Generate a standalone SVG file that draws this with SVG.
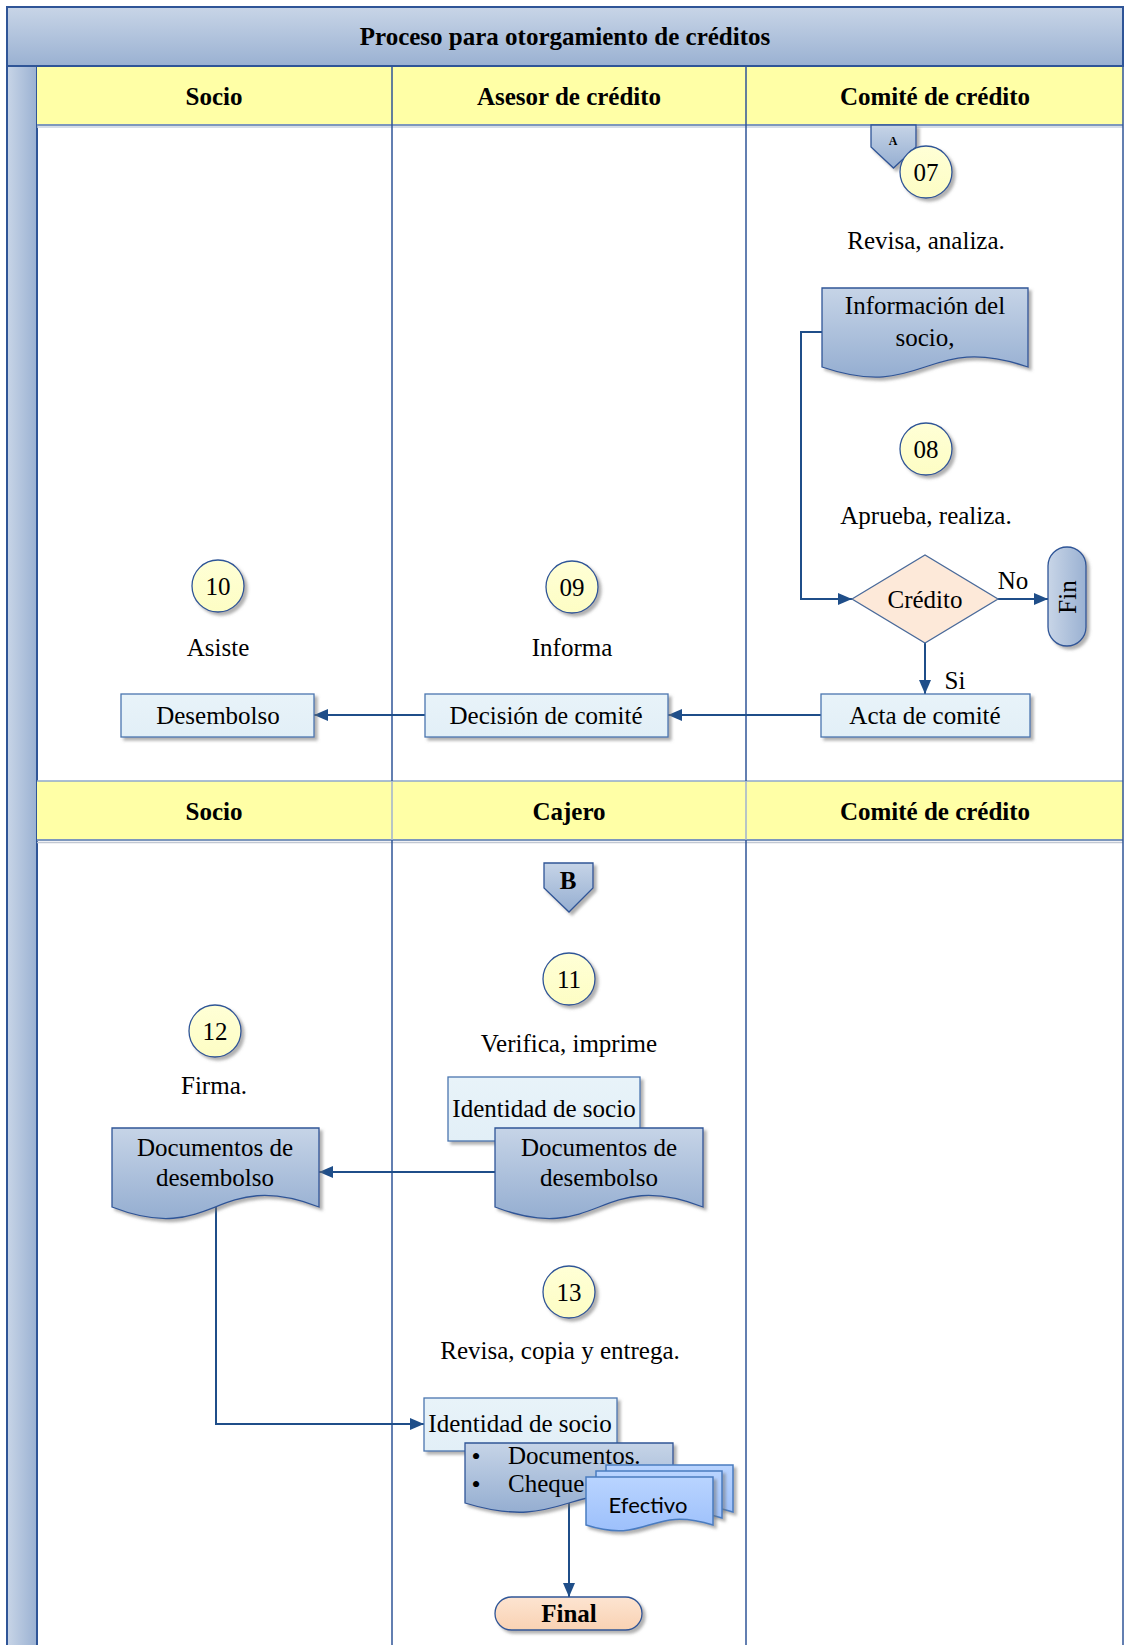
<svg xmlns="http://www.w3.org/2000/svg" width="1127" height="1645" viewBox="0 0 1127 1645">
<defs>
  <linearGradient id="gTitle" x1="0" y1="0" x2="0" y2="1">
    <stop offset="0" stop-color="#c8d5e7"/><stop offset="1" stop-color="#9ab1d2"/>
  </linearGradient>
  <linearGradient id="gStripe" x1="0" y1="0" x2="1" y2="0">
    <stop offset="0" stop-color="#c8d5e7"/><stop offset="1" stop-color="#9ab1d2"/>
  </linearGradient>
  <linearGradient id="gDoc" x1="0" y1="0" x2="0" y2="1">
    <stop offset="0" stop-color="#c6d4e7"/><stop offset="1" stop-color="#95aed1"/>
  </linearGradient>
  <linearGradient id="gCircle" x1="0" y1="0" x2="0" y2="1">
    <stop offset="0" stop-color="#ffffd6"/><stop offset="1" stop-color="#fdfdc4"/>
  </linearGradient>
  <linearGradient id="gBox" x1="0" y1="0" x2="0" y2="1">
    <stop offset="0" stop-color="#e8f3f9"/><stop offset="1" stop-color="#e2eff7"/>
  </linearGradient>
  <linearGradient id="gFinal" x1="0" y1="0" x2="0" y2="1">
    <stop offset="0" stop-color="#fde4d1"/><stop offset="1" stop-color="#f9d2b3"/>
  </linearGradient>
  <linearGradient id="gEfe" x1="0" y1="0" x2="0" y2="1">
    <stop offset="0" stop-color="#b9d4ff"/><stop offset="1" stop-color="#9dc0fb"/>
  </linearGradient>
  <filter id="sh" x="-20%" y="-20%" width="140%" height="140%">
    <feDropShadow dx="3" dy="3" stdDeviation="1.5" flood-color="#6f6f6f" flood-opacity="0.55"/>
  </filter>
  <marker id="arr" markerUnits="userSpaceOnUse" viewBox="0 0 14 12" markerWidth="14" markerHeight="12" refX="14" refY="6" orient="auto">
    <path d="M0,0 L14,6 L0,12 Z" fill="#1f4e89"/>
  </marker>
  <style>
    .t { font-family: "Liberation Serif", "Times New Roman", serif; font-size: 25px; fill: #000; text-anchor: middle; dominant-baseline: central; }
    .b { font-weight: bold; }
    .bul { font-size: 26px; }
    .lane { stroke: #2f5597; stroke-width: 1.5; fill: none; }
    .hdr { fill: #ffffa6; }
    .circ { fill: url(#gCircle); stroke: #2f5597; stroke-width: 1.3; filter: url(#sh); }
    .box { fill: url(#gBox); stroke: #4a76b0; stroke-width: 1.3; filter: url(#sh); }
    .doc { fill: url(#gDoc); stroke: #2f5597; stroke-width: 1.3; filter: url(#sh); }
    .efe { fill: url(#gEfe); stroke: #4a7cc0; stroke-width: 1.5; filter: url(#sh); }
    .con { fill: none; stroke: #1f4e89; stroke-width: 2; }
  </style>
</defs>

<g id="pool">
  <rect x="0" y="0" width="1127" height="1645" fill="#ffffff"/>
  <rect x="7" y="7" width="1116" height="59" fill="url(#gTitle)" stroke="#2f5597" stroke-width="2"/>
  <text class="t b" x="565" y="36">Proceso para otorgamiento de créditos</text>
  <rect x="7" y="66" width="30" height="1590" fill="url(#gStripe)" stroke="#2f5597" stroke-width="2"/>
  <rect class="hdr" x="37" y="67" width="1086" height="58"/>
  <line x1="37" y1="125" x2="1123" y2="125" stroke="#7d97bd" stroke-width="2"/>
  <line x1="37" y1="127" x2="1123" y2="127" stroke="#c9d3e2" stroke-width="1.5"/>
  <rect class="hdr" x="37" y="781" width="1086" height="59"/>
  <line x1="37" y1="781" x2="1123" y2="781" stroke="#8fa8cc" stroke-width="1.5"/>
  <line x1="37" y1="840" x2="1123" y2="840" stroke="#7d97bd" stroke-width="2"/>
  <line x1="37" y1="842.5" x2="1123" y2="842.5" stroke="#c2c8d2" stroke-width="1.5"/>
  <line class="lane" x1="392" y1="66" x2="392" y2="781"/>
  <line class="lane" x1="746" y1="66" x2="746" y2="781"/>
  <line x1="392" y1="781" x2="392" y2="840" stroke="#9fb2cf" stroke-width="1.5"/>
  <line x1="746" y1="781" x2="746" y2="840" stroke="#9fb2cf" stroke-width="1.5"/>
  <line class="lane" x1="392" y1="840" x2="392" y2="1645"/>
  <line class="lane" x1="746" y1="840" x2="746" y2="1645"/>
  <line class="lane" x1="1123" y1="7" x2="1123" y2="1645" stroke-width="2"/>
  <text class="t b" x="214" y="96">Socio</text>
  <text class="t b" x="569" y="96">Asesor de crédito</text>
  <text class="t b" x="935" y="96">Comité de crédito</text>
  <text class="t b" x="214" y="811">Socio</text>
  <text class="t b" x="569" y="811">Cajero</text>
  <text class="t b" x="935" y="811">Comité de crédito</text>
</g>

<g id="connectors">
  <path class="con" d="M822,332 H801 V599 H852" marker-end="url(#arr)"/>
  <path class="con" d="M998,599 H1048" marker-end="url(#arr)"/>
  <path class="con" d="M925,643 V694" marker-end="url(#arr)"/>
  <path class="con" d="M821,715 H668" marker-end="url(#arr)"/>
  <path class="con" d="M425,715 H314" marker-end="url(#arr)"/>
  <path class="con" d="M495,1172 H319" marker-end="url(#arr)"/>
  <path class="con" d="M216,1205 V1424 H424" marker-end="url(#arr)"/>
  <path class="con" d="M569,1500 V1597" marker-end="url(#arr)"/>
  <text class="t" x="1013" y="580">No</text>
  <text class="t" x="955" y="680">Si</text>
</g>

<g id="offpage-A">
  <polygon points="871,125 916,125 916,147 893.5,168 871,147" fill="url(#gDoc)" stroke="#2f5597" stroke-width="1.3" filter="url(#sh)"/>
  <text class="t b" x="893" y="141" style="font-size:12px">A</text>
</g>
<g id="step07">
  <circle class="circ" cx="926" cy="172" r="26"/>
  <text class="t" x="926" y="172">07</text>
  <text class="t" x="926" y="240">Revisa, analiza.</text>
</g>
<g id="doc-info">
  <path class="doc" d="M822,288 H1028 V367 C925,332 925,402 822,367 Z"/>
  <text class="t" x="925" y="305">Información del</text>
  <text class="t" x="925" y="337">socio,</text>
</g>
<g id="step08">
  <circle class="circ" cx="926" cy="449" r="26"/>
  <text class="t" x="926" y="449">08</text>
  <text class="t" x="926" y="515">Aprueba, realiza.</text>
</g>
<g id="decision">
  <polygon points="852,599 925,555 998,599 925,643" fill="#fde9d9" stroke="#4a6a9a" stroke-width="1.3"/>
  <text class="t" x="925" y="599">Crédito</text>
</g>
<g id="fin">
  <rect x="1048" y="547" width="38" height="99" rx="19" fill="url(#gStripe)" stroke="#2f5597" stroke-width="1.3" filter="url(#sh)"/>
  <text class="t" x="0" y="0" transform="translate(1067,597) rotate(-90)">Fin</text>
</g>
<g id="acta">
  <rect class="box" x="821" y="694" width="209" height="43"/>
  <text class="t" x="925" y="715">Acta de comité</text>
</g>
<g id="step09">
  <circle class="circ" cx="572" cy="587" r="26"/>
  <text class="t" x="572" y="587">09</text>
  <text class="t" x="572" y="647">Informa</text>
</g>
<g id="decision-comite">
  <rect class="box" x="425" y="694" width="243" height="43"/>
  <text class="t" x="546" y="715">Decisión de comité</text>
</g>
<g id="step10">
  <circle class="circ" cx="218" cy="586" r="26"/>
  <text class="t" x="218" y="586">10</text>
  <text class="t" x="218" y="647">Asiste</text>
</g>
<g id="desembolso">
  <rect class="box" x="121" y="694" width="193" height="43"/>
  <text class="t" x="218" y="715">Desembolso</text>
</g>

<g id="offpage-B">
  <polygon points="544,863 593,863 593,888 569,912 544,888" fill="url(#gDoc)" stroke="#2f5597" stroke-width="1.3" filter="url(#sh)"/>
  <text class="t b" x="568" y="880">B</text>
</g>
<g id="step11">
  <circle class="circ" cx="569" cy="979" r="26"/>
  <text class="t" x="569" y="979">11</text>
  <text class="t" x="569" y="1043">Verifica, imprime</text>
</g>
<g id="identidad1">
  <rect class="box" x="448" y="1077" width="192" height="64"/>
  <text class="t" x="544" y="1108">Identidad de socio</text>
</g>
<g id="doc-cajero">
  <path class="doc" d="M495,1128 H703 V1207 C599,1167 599,1247 495,1207 Z"/>
  <text class="t" x="599" y="1147">Documentos de</text>
  <text class="t" x="599" y="1177">desembolso</text>
</g>
<g id="step12">
  <circle class="circ" cx="215" cy="1031" r="26"/>
  <text class="t" x="215" y="1031">12</text>
  <text class="t" x="214" y="1085">Firma.</text>
</g>
<g id="doc-socio">
  <path class="doc" d="M112,1128 H319 V1207 C215,1167 215,1247 112,1207 Z"/>
  <text class="t" x="215" y="1147">Documentos de</text>
  <text class="t" x="215" y="1177">desembolso</text>
</g>
<g id="step13">
  <circle class="circ" cx="569" cy="1292" r="26"/>
  <text class="t" x="569" y="1292">13</text>
  <text class="t" x="560" y="1350">Revisa, copia y entrega.</text>
</g>
<g id="identidad2">
  <rect class="box" x="424" y="1398" width="193" height="53"/>
  <text class="t" x="520" y="1423">Identidad de socio</text>
</g>
<g id="doc-entrega">
  <path class="doc" d="M465,1443 H673 V1503 C569,1471 569,1535 465,1503 Z"/>
  <text class="t bul" x="476" y="1456">•</text>
  <text class="t" x="508" y="1455" style="text-anchor:start">Documentos.</text>
  <text class="t bul" x="476" y="1484">•</text>
  <text class="t" x="508" y="1483" style="text-anchor:start">Cheque</text>
</g>
<g id="efectivo">
  <path class="efe" d="M606,1465 H733 V1512 C669,1492 669,1532 606,1512 Z"/>
  <path class="efe" d="M596,1471 H722 V1518 C659,1498 659,1538 596,1518 Z"/>
  <path class="efe" d="M586,1477 H713 V1525 C649,1505 649,1545 586,1525 Z"/>
  <text x="648" y="1504" style="font-family:Lato,'Open Sans',sans-serif;font-size:22px;text-anchor:middle;dominant-baseline:central;fill:#000">Efectivo</text>
</g>
<g id="final">
  <rect x="495" y="1597" width="147" height="33" rx="16.5" fill="url(#gFinal)" stroke="#2f5597" stroke-width="1.3" filter="url(#sh)"/>
  <text class="t b" x="569" y="1613">Final</text>
</g>
</svg>
